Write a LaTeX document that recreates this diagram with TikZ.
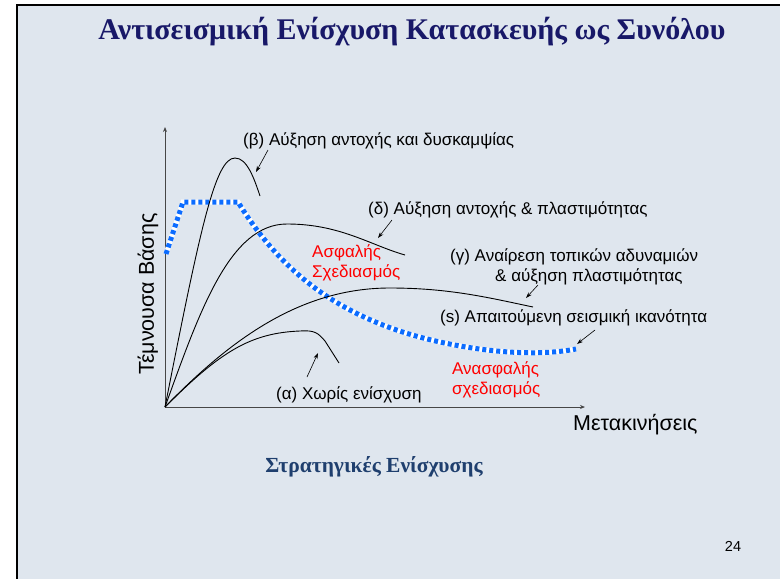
\documentclass[tikz,border=0pt]{standalone}
\usepackage{fontspec}
\setmainfont{Liberation Sans}
\newfontfamily\serifgr{Liberation Serif}
\usetikzlibrary{arrows.meta}
\definecolor{bgfill}{RGB}{223,230,238}
\definecolor{titlenavy}{RGB}{24,24,104}
\definecolor{subblue}{RGB}{31,63,110}
\definecolor{sblue}{RGB}{12,108,255}
\definecolor{axisgray}{RGB}{70,70,70}
\begin{document}
\begin{tikzpicture}[x=1pt,y=-1pt,
  lbl/.style={inner sep=0pt,anchor=west,font=\fontsize{17}{20}\selectfont},
  curve/.style={black,line width=0.9pt},
  pointer/.style={-{Stealth[length=6pt,width=4pt]},line width=0.6pt,black},
  axisline/.style={-{Stealth[length=5pt,width=4pt]},line width=1pt,axisgray},
  swhite/.style={white,line width=5pt},
  sdash/.style={sblue,line width=5pt,dash pattern=on 4pt off 3pt}]
\useasboundingbox (0,0) rectangle (780,579);
\fill[white] (0,0) rectangle (780,579);
\fill[bgfill] (17,5) rectangle (780,579);
\draw[line width=2pt] (780,5) -- (17,5) -- (17,579);

% title
\node[font=\serifgr\bfseries\fontsize{30}{34}\selectfont,text=titlenavy] (title) at (412,32) {Αντισεισμική Ενίσχυση Κατασκευής ως Συνόλου};

% axes
\coordinate (O) at (165,407);
\coordinate (ytop) at (165,127);
\coordinate (xend) at (585,407);
\draw[axisline] (O) -- (ytop);
\draw[axisline] (O) -- (xend);

% required capacity (s)
\coordinate (s0) at (166,254);
\coordinate (s1) at (183,202);
\coordinate (s2) at (238,202);
\coordinate (s3) at (440,342);
\coordinate (s4) at (576,349);
\draw[swhite] (s0) -- (s1) -- (s2) .. controls (275,262) and (330,318) .. (s3) .. controls (490,353) and (540,356) .. (s4);
\draw[sdash] (s0) -- (s1) -- (s2) .. controls (275,262) and (330,318) .. (s3) .. controls (490,353) and (540,356) .. (s4);

% curves
\coordinate (bpk) at (235,158);
\coordinate (bend) at (260,196);
\draw[curve] (O) .. controls (200,230) and (215,158) .. (bpk) .. controls (247,158) and (254,178) .. (bend);
\coordinate (dpk) at (287,224);
\coordinate (dend) at (405,255);
\draw[curve] (O) .. controls (200,310) and (230,224) .. (dpk) .. controls (340,224) and (370,245) .. (dend);
\coordinate (gpk) at (390,288);
\coordinate (gend) at (533,307);
\draw[curve] (O) .. controls (230,340) and (300,288) .. (gpk) .. controls (450,288) and (490,298) .. (gend);
\coordinate (apk) at (300,331);
\coordinate (aend) at (339,363);
\draw[curve] (O) .. controls (220,352) and (250,333) .. (apk) .. controls (315,330) and (318,333) .. (325,341) -- (aend);

% labels
\node[lbl] (lb) at (243,141) {(β) Αύξηση αντοχής και δυσκαμψίας};
\node[lbl] (ld) at (368,210) {(δ) Αύξηση αντοχής \& πλαστιμότητας};
\node[lbl] (lg1) at (450,257) {(γ) Αναίρεση τοπικών αδυναμιών};
\node[lbl] (lg2) at (495,277) {\& αύξηση πλαστιμότητας};
\node[lbl] (ls) at (440,318) {(s) Απαιτούμενη σεισμική ικανότητα};
\node[lbl] (la) at (276,395) {(α) Χωρίς ενίσχυση};
\node[lbl,text=red,align=left] (safe) at (312,263) {Ασφαλής\\Σχεδιασμός};
\node[lbl,text=red,align=left] (unsafe) at (452,380) {Ανασφαλής\\σχεδιασμός};
\node[lbl,font=\fontsize{21.5}{24}\selectfont] (xl) at (573,425) {Μετακινήσεις};
\node[inner sep=0pt,rotate=90,font=\fontsize{21.5}{24}\selectfont] (yl) at (148,294) {Τέμνουσα Βάσης};

% pointers
\coordinate (pb0) at (268,150); \coordinate (pb1) at (256,172);
\coordinate (pd0) at (392,220); \coordinate (pd1) at (378,238);
\coordinate (pg0) at (538,285); \coordinate (pg1) at (526,298);
\coordinate (ps0) at (595,330); \coordinate (ps1) at (577,344);
\coordinate (pa0) at (307,377); \coordinate (pa1) at (318,353);
\draw[pointer] (pb0) -- (pb1);
\draw[pointer] (pd0) -- (pd1);
\draw[pointer] (pg0) -- (pg1);
\draw[pointer] (ps0) -- (ps1);
\draw[pointer] (pa0) -- (pa1);

% subtitle and page number
\node[font=\serifgr\bfseries\fontsize{21.5}{24}\selectfont,text=subblue] (sub) at (374,467) {Στρατηγικές Ενίσχυσης};
\node[font=\fontsize{14.5}{16}\selectfont] (pg) at (733,546) {24};
\end{tikzpicture}
\end{document}
